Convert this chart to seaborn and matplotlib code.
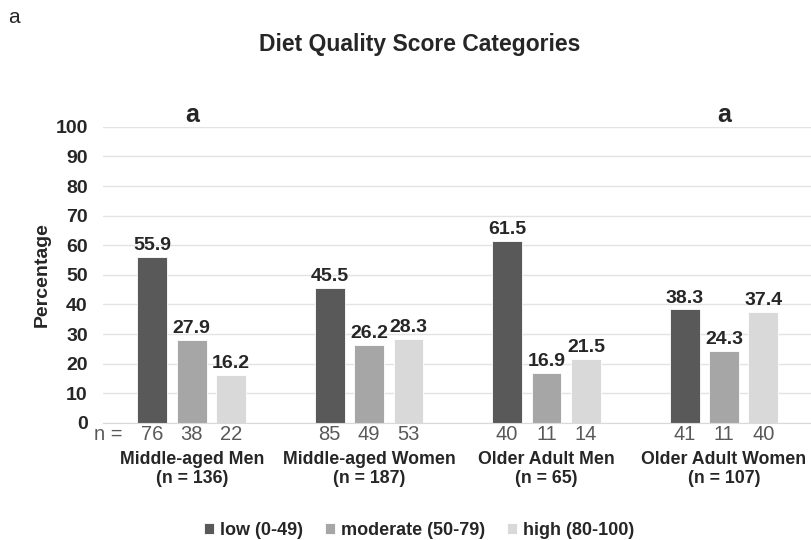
import pandas as pd
import matplotlib.pyplot as plt
import seaborn as sns

groups = ["Middle-aged Men", "Middle-aged Women", "Older Adult Men", "Older Adult Women"]
group_n = [136, 187, 65, 107]
levels = ["low (0-49)", "moderate (50-79)", "high (80-100)"]
low = [55.9, 45.5, 61.5, 38.3]
moderate = [27.9, 26.2, 16.9, 24.3]
high = [16.2, 28.3, 21.5, 37.4]
n_low = [76, 85, 40, 41]
n_moderate = [38, 49, 11, 11]
n_high = [22, 53, 14, 40]
letters = ["a", "", "", "a"]

colors = ["#595959", "#a6a6a6", "#d9d9d9"]

rows = []
for i, g in enumerate(groups):
    for lev, vals, ns in zip(levels, [low, moderate, high], [n_low, n_moderate, n_high]):
        rows.append({"group": g, "level": lev, "pct": vals[i], "n": ns[i]})
df = pd.DataFrame(rows)

sns.set_style("white")
plt.rcParams["font.family"] = ["Liberation Sans", "DejaVu Sans"]

fig = plt.figure(figsize=(8.11, 5.40), dpi=100)
ax = fig.add_axes([0.127, 0.217, 0.875, 0.548])

sns.barplot(data=df, x="group", y="pct", hue="level", palette=colors,
            width=0.666, gap=0.24, edgecolor="white", linewidth=0.6,
            ax=ax, legend=True)

ax.set_ylim(0, 100)
ax.set_xlim(-0.5, 3.5)
ax.set_yticks(range(0, 101, 10))
ax.yaxis.grid(True, color="#e3e3e3", linewidth=1)
ax.set_axisbelow(True)
for s in ["top", "right", "left"]:
    ax.spines[s].set_visible(False)
ax.spines["bottom"].set_color("#d9d9d9")
ax.tick_params(axis="y", length=0, pad=11, labelsize=14)
for t in ax.get_yticklabels():
    t.set_fontweight("bold")
ax.set_ylabel("Percentage", fontsize=14, fontweight="bold")
ax.yaxis.set_label_coords(-0.074, 0.5)
ax.set_xlabel("")
ax.set_xticks(range(len(groups)))
ax.set_xticklabels([f"{g}\n(n = {n})" for g, n in zip(groups, group_n)],
                   fontsize=12.8, fontweight="bold", linespacing=1.2)
ax.tick_params(axis="x", length=0, pad=20)

# value labels and counts under bars
count_lists = [n_low, n_moderate, n_high]
for cont, counts in zip(ax.containers, count_lists):
    for bar, c in zip(cont, counts):
        xc = bar.get_x() + bar.get_width() / 2
        h = bar.get_height()
        ax.text(xc, h + 1.0, f"{h:.1f}", ha="center", va="bottom",
                fontsize=14, fontweight="bold")
        ax.text(xc, -0.8, str(c), ha="center", va="top", fontsize=14.5,
                color="#595959")
ax.text(-0.39, -0.8, "n =", ha="right", va="top", fontsize=14.5,
        color="#595959")

for i, lt in enumerate(letters):
    if lt:
        ax.text(i, 101.7, lt, ha="center", va="baseline", fontsize=18,
                fontweight="bold", clip_on=False)

fig.text(0.518, 0.918, "Diet Quality Score Categories", ha="center",
         va="center", fontsize=16.5, fontweight="bold")
fig.text(0.01, 0.968, "a", ha="left", va="center", fontsize=15)

handles, labels = ax.get_legend_handles_labels()
ax.legend_.remove()
leg = fig.legend(handles, labels, loc="center", bbox_to_anchor=(0.517, 0.017),
                 ncol=3, frameon=False, handlelength=0.55, handleheight=0.55,
                 handletextpad=0.35, columnspacing=1.2,
                 prop={"weight": "bold", "size": 13})

fig.savefig("out.png", dpi=100)
